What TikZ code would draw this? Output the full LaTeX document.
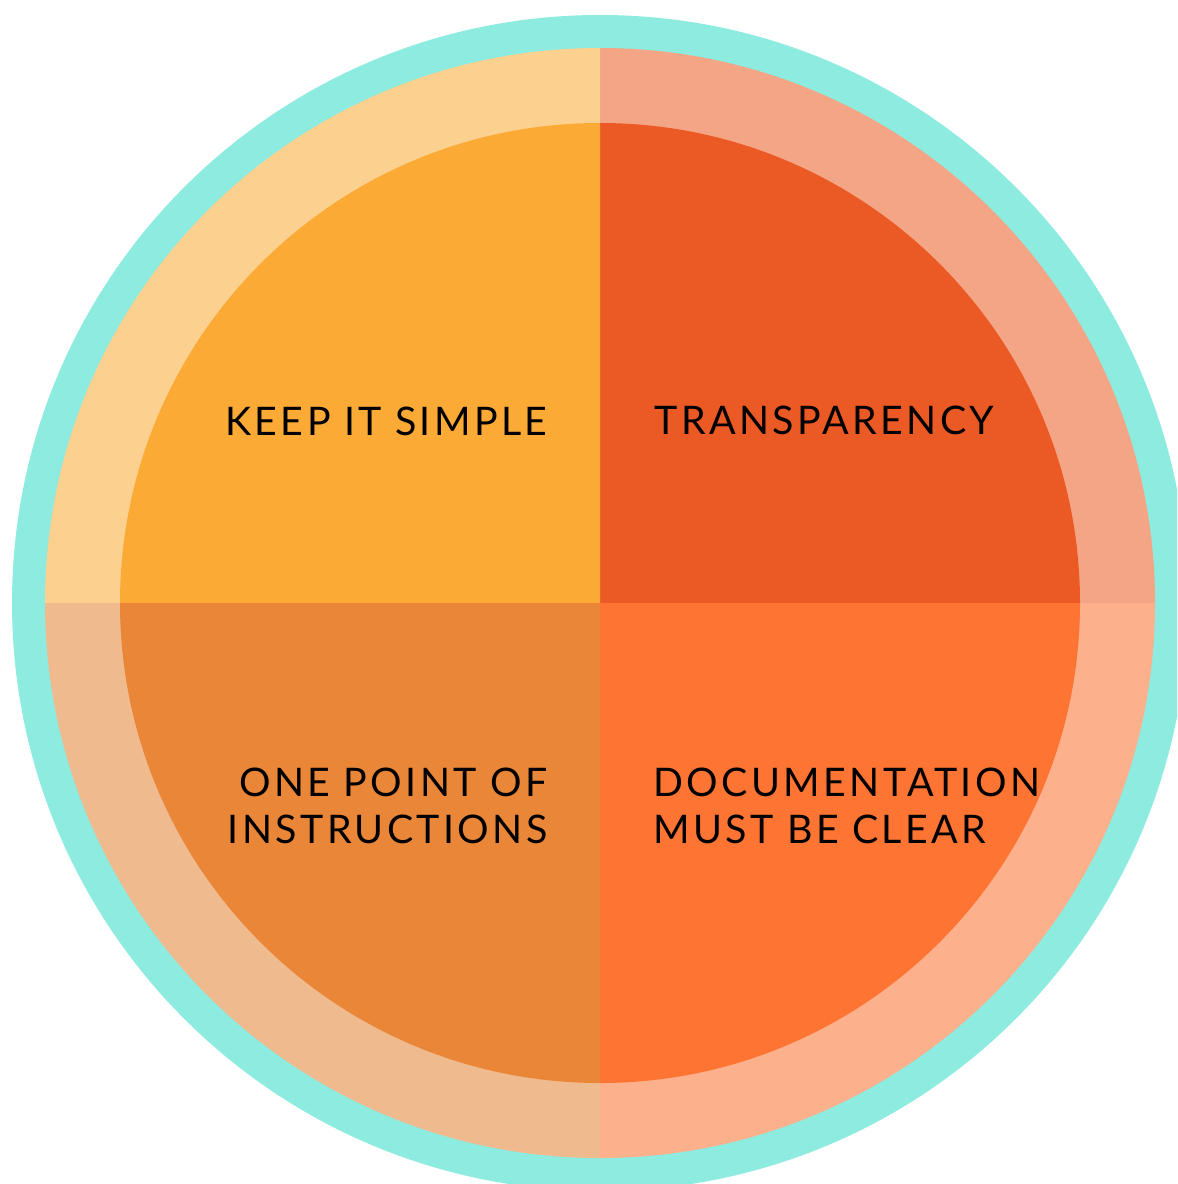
\documentclass[tikz,border=0pt]{standalone}
\usepackage{fontspec}
\newfontfamily\latofont[LetterSpace=8.5]{Lato}
\definecolor{teal}{HTML}{8EEBE0}
\definecolor{ringTL}{HTML}{FCD08E}
\definecolor{ringTR}{HTML}{F4A585}
\definecolor{ringBL}{HTML}{F0BA8F}
\definecolor{ringBR}{HTML}{FDB08C}
\definecolor{pieTL}{HTML}{FAAA35}
\definecolor{pieTR}{HTML}{EB5A24}
\definecolor{pieBL}{HTML}{E98637}
\definecolor{pieBR}{HTML}{FE7433}
\tikzset{
  label/.style={font={\latofont\fontsize{11.2}{13.1}\selectfont}, text=black, inner sep=0pt},
}
\begin{document}
\begin{tikzpicture}
\useasboundingbox (0,0) rectangle (11.77,-11.84);
\clip (0,0) rectangle (11.77,-11.84);
\coordinate (C) at (6.00,-6.03);
\fill[teal] (C) circle (5.88);
% outer ring quadrants
\fill[ringTR] (C) -- ++(0:5.55) arc (0:90:5.55) -- cycle;
\fill[ringTL] (C) -- ++(90:5.55) arc (90:180:5.55) -- cycle;
\fill[ringBL] (C) -- ++(180:5.55) arc (180:270:5.55) -- cycle;
\fill[ringBR] (C) -- ++(270:5.55) arc (270:360:5.55) -- cycle;
% inner pie quadrants
\fill[pieTR] (C) -- ++(0:4.80) arc (0:90:4.80) -- cycle;
\fill[pieTL] (C) -- ++(90:4.80) arc (90:180:4.80) -- cycle;
\fill[pieBL] (C) -- ++(180:4.80) arc (180:270:4.80) -- cycle;
\fill[pieBR] (C) -- ++(270:4.80) arc (270:360:4.80) -- cycle;
% labels
\node[label, anchor=base east] (keep) at (5.48,-4.35) {KEEP IT SIMPLE};
\node[label, anchor=base west] (trans) at (6.54,-4.34) {TRANSPARENCY};
\node[label, anchor=base east, align=right] (one) at (5.48,-8.43) {ONE POINT OF\\INSTRUCTIONS};
\node[label, anchor=base west, align=left] (doc) at (6.53,-8.43) {DOCUMENTATION\\MUST BE CLEAR};
\end{tikzpicture}
\end{document}
